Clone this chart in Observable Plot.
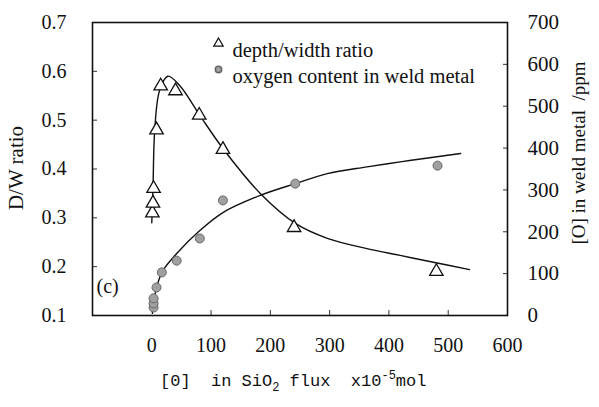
<!DOCTYPE html>
<html>
<head>
<meta charset="utf-8">
<script src="https://cdn.jsdelivr.net/npm/d3@7"></script>
<script src="https://cdn.jsdelivr.net/npm/@observablehq/plot@0.6"></script>
<style>
  body { margin: 0; background: #fff; }
  #chart svg { display: block; }
  #chart svg text { font-family: "Liberation Serif", "DejaVu Serif", "Noto Serif", serif; }
  #chart svg text.mono { font-family: "Liberation Mono", "DejaVu Sans Mono", monospace; }
</style>
</head>
<body>
<div id="chart"></div>
<script>
// ---- data ----
// depth/width ratio points
const dwX = [1, 2, 3, 8, 15, 40, 80, 120, 240, 480];
const dwY = [0.31, 0.33, 0.36, 0.48, 0.57, 0.56, 0.51, 0.44, 0.28, 0.19];
// oxygen content points (ppm)
const oxX = [3, 3, 3, 8, 17, 42, 81, 120, 242, 482];
const oxY = [19, 29, 41, 67, 103, 131, 184, 275, 315, 358];
// fitted curve through depth/width ratio (hand-drawn in original)
const dwCurveX = [0, 2, 5, 13, 27, 47, 81, 120, 183, 243, 296, 363, 419, 475, 536];
const dwCurveY = [0.29, 0.36, 0.48, 0.56, 0.59, 0.571, 0.51, 0.442, 0.35, 0.288, 0.258, 0.237, 0.223, 0.209, 0.194];
// fitted curve through oxygen content
const oxCurveX = [1, 4, 17, 42, 81, 120, 183, 242, 296, 363, 419, 475, 521];
const oxCurveY = [5, 41, 103, 148, 203, 246, 287, 315, 339, 355, 367, 378, 387];
// tick labels
const xTicks = [0, 100, 200, 300, 400, 500, 600];
const yLeftTicks = [0.1, 0.2, 0.3, 0.4, 0.5, 0.6, 0.7];
const yRightTicks = [0, 100, 200, 300, 400, 500, 600, 700];
const legendLabels = ["depth/width ratio", "oxygen content in weld metal"];

// right axis (ppm) mapped onto the left axis (D/W) range
const ppmMax = 700, dwMin = 0.1, dwMax = 0.7;
const ppmToDw = p => dwMin + p / ppmMax * (dwMax - dwMin);
const dwToPpm = v => Math.round((v - dwMin) / (dwMax - dwMin) * ppmMax);

const dwPts = dwX.map((x, i) => ({x, y: dwY[i]}));
const oxPts = oxX.map((x, i) => ({x, y: ppmToDw(oxY[i])}));
const dwCurve = dwCurveX.map((x, i) => ({x, y: dwCurveY[i]}));
const oxCurve = oxCurveX.map((x, i) => ({x, y: ppmToDw(oxCurveY[i])}));

const serif = '"Liberation Serif", "DejaVu Serif", "Noto Serif", serif';

const plot = Plot.plot({
  width: 599,
  height: 407,
  marginLeft: 92,
  marginRight: 92,
  marginTop: 22,
  marginBottom: 92,
  style: {fontFamily: serif, fontSize: "19px", color: "#111", background: "#fff"},
  x: {domain: [-100, 600]},
  y: {domain: [dwMin, dwMax]},
  marks: [
    // inward tick marks
    Plot.axisX({ticks: [100, 200, 300, 400, 500], tickSize: -5, text: null, label: null, stroke: "#333"}),
    Plot.axisY({anchor: "left", ticks: [0.2, 0.3, 0.4, 0.5, 0.6], tickSize: -5, text: null, label: null, stroke: "#333"}),
    Plot.axisY({anchor: "right", ticks: [100, 200, 300, 400, 500, 600].map(ppmToDw), tickSize: -5, text: null, label: null, stroke: "#333"}),
    // tick labels
    Plot.axisX({ticks: xTicks, tickSize: 0, tickPadding: 22, label: null, fontSize: 20, tickFormat: d => String(d)}),
    Plot.axisY({anchor: "left", ticks: yLeftTicks, tickSize: 0, tickPadding: 26, label: null, fontSize: 20, tickFormat: d => d.toFixed(1)}),
    Plot.axisY({anchor: "right", ticks: yRightTicks.map(ppmToDw), tickSize: 0, tickPadding: 20, label: null, fontSize: 21, tickFormat: d => String(dwToPpm(d))}),
    // curves
    Plot.line(dwCurve, {x: "x", y: "y", curve: "catmull-rom", stroke: "#111", strokeWidth: 1.4}),
    Plot.line(oxCurve, {x: "x", y: "y", curve: "catmull-rom", stroke: "#111", strokeWidth: 1.4}),
    // data points
    Plot.dot(oxPts, {x: "x", y: "y", r: 4.5, fill: "#a0a0a0", stroke: "#666", strokeWidth: 1}),
    Plot.dot(dwPts, {x: "x", y: "y", symbol: "triangle", r: 5, fill: "white", stroke: "#111", strokeWidth: 1.3}),
    // legend (inside the frame)
    Plot.dot([legendLabels[0]], {frameAnchor: "top-left", dx: 126, dy: 21, symbol: "triangle", r: 3.5, fill: "white", stroke: "#111", strokeWidth: 1.2}),
    Plot.dot([legendLabels[1]], {frameAnchor: "top-left", dx: 126, dy: 47, r: 3.2, fill: "#a0a0a0", stroke: "#666"}),
    Plot.text([legendLabels[0]], {frameAnchor: "top-left", dx: 140, dy: 20, text: d => d, textAnchor: "start", fontSize: 20.5, fill: "#111"}),
    Plot.text([legendLabels[1]], {frameAnchor: "top-left", dx: 140, dy: 46, text: d => d, textAnchor: "start", fontSize: 20.5, fill: "#111"}),
    // panel label
    Plot.text(["(c)"], {frameAnchor: "bottom-left", dx: 4, dy: -23, text: d => d, textAnchor: "start", fontSize: 20, fill: "#111"}),
    Plot.frame({stroke: "#111", strokeWidth: 1.6})
  ]
});

document.getElementById("chart").appendChild(plot);

// axis titles (with sub/superscripts) added to the same svg
const svg = d3.select(plot);
svg.append("text")
  .attr("transform", "translate(18,168) rotate(-90)")
  .attr("text-anchor", "middle")
  .attr("dominant-baseline", "middle")
  .attr("font-size", 21).attr("fill", "#111")
  .text("D/W ratio");
svg.append("text")
  .attr("transform", "translate(581,153) rotate(-90)")
  .attr("text-anchor", "middle")
  .attr("dominant-baseline", "middle")
  .attr("font-size", 19).attr("fill", "#111")
  .text("[O] in weld metal  /ppm");
const xt = svg.append("text")
  .attr("class", "mono")
  .attr("x", 160).attr("y", 386)
  .attr("text-anchor", "start")
  .attr("font-size", 17).attr("fill", "#111");
xt.append("tspan").text("[0]  in SiO");
xt.append("tspan").attr("dy", 5).attr("font-size", 12).text("2");
xt.append("tspan").attr("dy", -5).text(" flux  x10");
xt.append("tspan").attr("dy", -7).attr("font-size", 12).text("-5");
xt.append("tspan").attr("dy", 7).text("mol");
</script>
</body>
</html>
